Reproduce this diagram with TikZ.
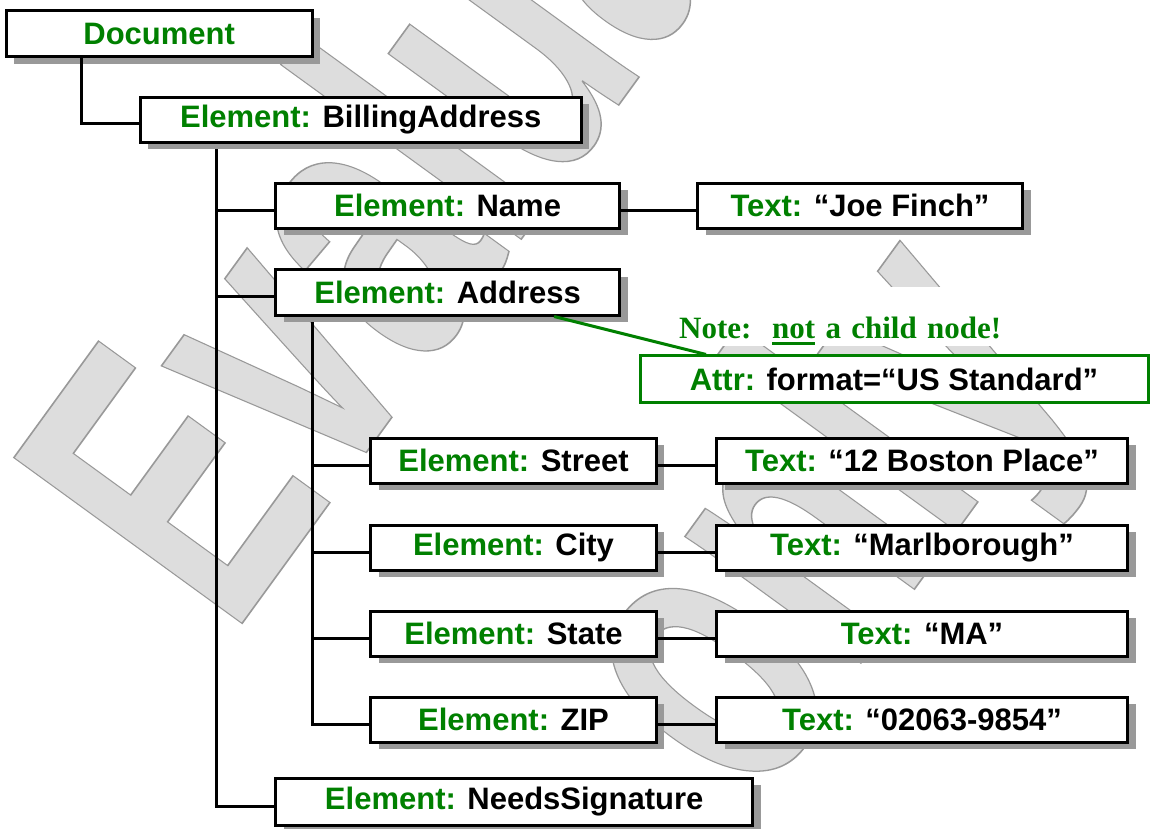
\documentclass[tikz,border=0pt]{standalone}
\usepackage{fontspec}
\setmainfont{Liberation Sans}
\newfontfamily\notefont{Liberation Serif}
\usetikzlibrary{shadows}
\definecolor{elgreen}{RGB}{0,128,0}
\definecolor{wmfill}{RGB}{221,221,221}
\definecolor{shadowgray}{RGB}{153,153,153}
\newcommand\eg[1]{\textcolor{elgreen}{#1}}
\newcommand\myul[1]{\setbox0=\hbox{#1}\rlap{\rule[-7pt]{\wd0}{3.2pt}}\box0\relax}
\begin{document}
\begin{tikzpicture}[x=1pt,y=-1pt,
  box/.style={draw=black, line width=3pt, fill=white, inner sep=0pt,
    minimum height=45pt,
    font=\fontsize{31}{36}\selectfont\bfseries,
    drop shadow={shadow xshift=8pt, shadow yshift=-7pt, fill=shadowgray, opacity=1}},
  conn/.style={line width=3pt, draw=black},
  wmtext/.style={text=wmfill, inner sep=0pt, anchor=base west, transform shape,
    font=\fontsize{410}{420}\selectfont\bfseries}
]
\fill[white] (0,0) rectangle (1160,829);
\useasboundingbox (0,0) rectangle (1160,829);

% watermark
\begin{scope}[shift={(231.5,638)}, rotate=54, xscale=0.65]
  \node[wmtext] (wm1) at (0,0) {\special{pdf:literal direct 2 Tr 0.6 G 1.6 w}Evaluation};
\end{scope}
\begin{scope}[shift={(754,810)}, rotate=54, xscale=0.65]
  \node[wmtext] (wm2) at (0,0) {\special{pdf:literal direct 2 Tr 0.6 G 1.6 w}only};
\end{scope}

% boxes
\node[box, minimum width=306pt, minimum height=46pt] (doc) at (159.2,33.8) {\eg{Document}};
\node[box, minimum width=440.6pt] (bill) at (360.7,120) {\eg{Element:} BillingAddress};
\node[box, minimum width=344pt] (name) at (447.6,205.8) {\eg{Element:} Name};
\node[box, minimum width=325pt] (joe) at (860,205.8) {\eg{Text:} “Joe Finch”};
\node[box, minimum width=344pt] (addr) at (447.6,292.5) {\eg{Element:} Address};
\node[box, minimum width=285.3pt] (street) at (513.5,460.8) {\eg{Element:} Street};
\node[box, minimum width=411pt] (boston) at (922,460.8) {\eg{Text:} “12 Boston Place”};
\node[box, minimum width=285.3pt] (city) at (513.5,547.5) {\eg{Element:} City};
\node[box, minimum width=411pt] (marl) at (922,547.5) {\eg{Text:} “Marlborough”};
\node[box, minimum width=285.3pt] (state) at (513.5,633.5) {\eg{Element:} State};
\node[box, minimum width=411pt] (ma) at (922,633.5) {\eg{Text:} “MA”};
\node[box, minimum width=285.3pt] (zip) at (513.5,719.5) {\eg{Element:} ZIP};
\node[box, minimum width=411pt] (zipt) at (922,719.5) {\eg{Text:} “02063-9854”};
\node[box, minimum width=477.4pt, minimum height=47pt] (needs) at (514.2,801.7) {\eg{Element:} NeedsSignature};

% note and attribute
\node[anchor=north west, fill=white, inner xsep=4pt, inner ysep=0pt,
  text height=51pt, text depth=8pt, text width=341pt, align=left,
  text=elgreen, font=\notefont\bfseries\fontsize{31}{36}\selectfont]
  (note) at (675,287) {Note:\ \ \myul{not} a child node!};
\node[draw=elgreen, line width=3pt, fill=white, inner sep=0pt,
  minimum width=508pt, minimum height=46.7pt,
  font=\fontsize{31}{36}\selectfont\bfseries]
  (attr) at (894,379.3) {\eg{Attr:} format=“US Standard”};
\draw[elgreen, line width=3pt] ([xshift=106.5pt]addr.south) -- ([xshift=-188pt]attr.north);

% connectors
\coordinate (dx) at (81.5,58);
\draw[conn] ([yshift=-4pt]bill.west) -| (doc.south -| dx);
\coordinate (tx) at (216.6,149);
\foreach \n in {name,addr,needs} \draw[conn] ([yshift=-4.5pt]\n.west) -| (tx);
\coordinate (ax) at (312.7,322);
\foreach \n in {street,city,state,zip} \draw[conn] ([yshift=-4.5pt]\n.west) -| (ax);
\draw[conn] ([yshift=-4.5pt]name.east) -- ([yshift=-4.5pt]joe.west);
\draw[conn] ([yshift=-4.5pt]street.east) -- ([yshift=-4.5pt]boston.west);
\draw[conn] ([yshift=-4.5pt]city.east) -- ([yshift=-4.5pt]marl.west);
\draw[conn] ([yshift=-4.5pt]state.east) -- ([yshift=-4.5pt]ma.west);
\draw[conn] ([yshift=-4.5pt]zip.east) -- ([yshift=-4.5pt]zipt.west);
\end{tikzpicture}
\end{document}
